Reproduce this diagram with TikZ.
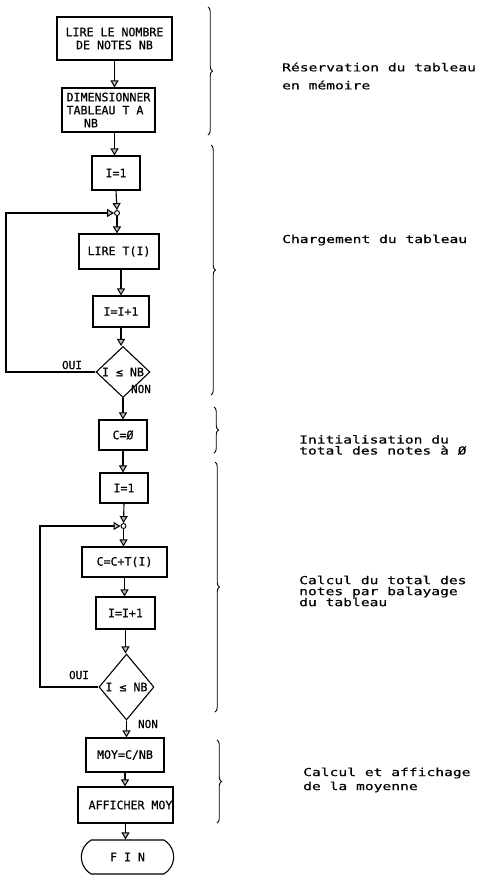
\documentclass[tikz,border=0pt]{standalone}
\usepackage{fontspec}
\newfontfamily\boxfont[FakeBold=0.6]{DejaVu Sans Mono}
\newfontfamily\lblfont[FakeStretch=1.33,FakeBold=0.4]{DejaVu Sans Mono}
\usetikzlibrary{arrows.meta,shapes.geometric,shapes.misc,decorations.pathreplacing}
\begin{document}
\begin{tikzpicture}[x=1pt,y=-1pt,
  proc/.style={draw, line width=1.1pt, inner sep=1.5pt, align=center,
    font=\boxfont\fontsize{11.6}{13}\selectfont},
  dec/.style={draw, diamond, line width=1.1pt, inner sep=0pt,
    font=\boxfont\fontsize{11.6}{13}\selectfont},
  term/.style={draw, rounded rectangle, rounded rectangle arc length=120, line width=1.1pt,
    font=\boxfont\fontsize{11.6}{13}\selectfont},
  junc/.style={draw, circle, fill=white, inner sep=0pt, minimum size=5pt, line width=0.9pt},
  flow/.style={line width=1.1pt, -{Triangle[width=8pt,length=7pt,line width=1pt,fill=gray!55]}},
  small/.style={font=\boxfont\fontsize{11}{12}\selectfont, inner sep=0pt},
  brc/.style={line width=0.9pt, decorate, decoration={brace, amplitude=4.5pt}},
  lbl/.style={anchor=west, align=left, inner sep=0pt}
]
\useasboundingbox (0,0) rectangle (479,876);

% nodes
\node[proc, minimum width=115pt, minimum height=43pt] (b1) at (114.5,38.5) {LIRE LE NOMBRE\\DE NOTES NB};
\node[proc, minimum width=93pt, minimum height=44pt, align=left] (b2) at (108.5,110) {DIMENSIONNER\\TABLEAU T A\\\hspace*{1.5em}NB};
\node[proc, minimum width=48pt, minimum height=34pt] (b3) at (116,173) {I=1};
\node[junc] (j1) at (117,213) {};
\node[proc, minimum width=80pt, minimum height=35pt] (b4) at (119,251.5) {LIRE T(I)};
\node[proc, minimum width=56pt, minimum height=31pt] (b5) at (121,311.5) {I=I+1};
\node[dec, minimum width=54pt, minimum height=51pt] (d1) at (123,372) {I ≤ NB};
\node[proc, minimum width=48pt, minimum height=30pt] (c0) at (123,435) {C=Ø};
\node[proc, minimum width=48pt, minimum height=30pt] (b7) at (124,488) {I=1};
\node[junc] (j2) at (123.5,526) {};
\node[proc, minimum width=85pt, minimum height=30pt] (b8) at (124.5,562) {C=C+T(I)};
\node[proc, minimum width=59pt, minimum height=32pt] (b9) at (125.5,613) {I=I+1};
\node[dec, minimum width=55pt, minimum height=66pt] (d2) at (126.5,687) {I ≤ NB};
\node[proc, minimum width=78pt, minimum height=34pt] (b10) at (125,755) {MOY=C/NB};
\node[proc, minimum width=95pt, minimum height=36pt, inner sep=0pt] (b11) at (125.5,805) {\hspace*{10pt}AFFICHER MOY};
\node[term, minimum width=99pt, minimum height=34pt] (fin) at (127.5,857) {F I N};

% connectors
\draw[flow] (b1.south) -- (b1.south |- b2.north);
\draw[flow] (b2.south -| b1.south) -- (b1.south |- b3.north);
\draw[flow] (b3.south) -- (j1.north);
\draw[flow] (j1.south) -- (j1.south |- b4.north);
\draw[flow] (b4.south -| b5.north) -- (b5.north);
\draw[flow] (b5.south) -- (b5.south |- d1.north);
\draw[flow] (d1.south) -- (d1.south |- c0.north);
\draw[flow] (c0.south) -- (c0.south |- b7.north);
\draw[flow] (b7.south) -- (j2.north);
\draw[flow] (j2.south) -- (j2.south |- b8.north);
\draw[flow] (b8.south) -- (b8.south |- b9.north);
\draw[flow] (b9.south) -- (b9.south |- d2.north);
\draw[flow] (d2.south) -- (d2.south |- b10.north);
\draw[flow] (b10.south) -- (b10.south |- b11.north);
\draw[flow] (b11.south) -- (b11.south |- fin.north);

% loops
\coordinate (l1) at (6,372);
\coordinate (l2) at (40,687);
\draw[flow] (d1.west) -- (d1.west -| l1) -- (l1 |- j1) -- (j1.west);
\draw[flow] (d2.west) -- (d2.west -| l2) -- (l2 |- j2) -- (j2.west);

% branch labels
\node[small] (oui1) at (72,365) {OUI};
\node[small] (non1) at (141,389) {NON};
\node[small] (oui2) at (79,675) {OUI};
\node[small] (non2) at (148,724) {NON};

% braces
\draw[brc] (208,7) -- (208,135);
\draw[brc] (211,145) -- (211,395);
\draw[brc] (214,407) -- (214,453);
\draw[brc] (215,462) -- (215,712);
\draw[brc] (217,740) -- (217,823);

% descriptions
\node[lbl, font=\lblfont\fontsize{11}{18}\selectfont] (t1) at (282,76) {Réservation du tableau\\en mémoire};
\node[lbl, font=\lblfont\fontsize{11}{12}\selectfont] (t2) at (282,240) {Chargement du tableau};
\node[lbl, font=\lblfont\fontsize{11}{11}\selectfont] (t3) at (299,445) {Initialisation du\\total des notes à Ø};
\node[lbl, font=\lblfont\fontsize{11}{11}\selectfont] (t4) at (299,591) {Calcul du total des\\notes par balayage\\du tableau};
\node[lbl, font=\lblfont\fontsize{11}{14}\selectfont] (t5) at (303,780) {Calcul et affichage\\de la moyenne};
\end{tikzpicture}
\end{document}
